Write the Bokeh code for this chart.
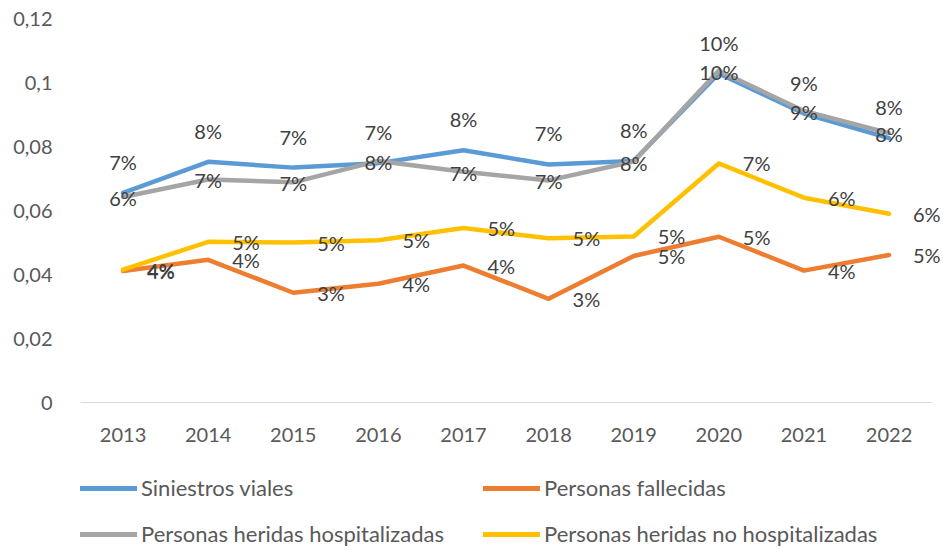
from bokeh.plotting import figure
from bokeh.models import (ColumnDataSource, LabelSet, Range1d, FixedTicker,
                          Legend, LegendItem)
from bokeh.layouts import column
from bokeh.core.properties import value
from bokeh.embed import file_html
from bokeh.resources import INLINE

years = [2013, 2014, 2015, 2016, 2017, 2018, 2019, 2020, 2021, 2022]
siniestros_viales = [0.0655, 0.0752, 0.0734, 0.0748, 0.0788, 0.0744, 0.0755, 0.1028, 0.0903, 0.0826]
personas_fallecidas = [0.0411, 0.0446, 0.0343, 0.0371, 0.0428, 0.0324, 0.0458, 0.0518, 0.0412, 0.0461]
heridas_hospitalizadas = [0.0642, 0.0697, 0.0688, 0.0755, 0.0721, 0.0694, 0.0753, 0.1037, 0.0911, 0.0842]
heridas_no_hospitalizadas = [0.0415, 0.0502, 0.0500, 0.0507, 0.0545, 0.0513, 0.0519, 0.0747, 0.0640, 0.0590]

series_names = ["Siniestros viales", "Personas fallecidas",
                "Personas heridas hospitalizadas", "Personas heridas no hospitalizadas"]
series_values = [siniestros_viales, personas_fallecidas,
                 heridas_hospitalizadas, heridas_no_hospitalizadas]
series_colors = ["#5B9BD5", "#ED7D31", "#A5A5A5", "#FFC000"]
# label placement per series: "above", "right", "center", "right"
label_positions = ["above", "right", "center", "right"]

y_ticks = [0, 0.02, 0.04, 0.06, 0.08, 0.1, 0.12]
y_tick_labels = ["0", "0,02", "0,04", "0,06", "0,08", "0,1", "0,12"]

FONT = "Lato"

# frame extends a little past the last category so that right-side labels are not clipped
p = figure(width=943, height=452, output_backend="svg", toolbar_location=None,
           x_range=Range1d(2012.5, 2022.64), y_range=Range1d(0, 0.12),
           min_border_left=78, min_border_right=0, min_border_top=18,
           min_border_bottom=50)
p.outline_line_color = None
p.xgrid.visible = False
p.ygrid.visible = False
p.background_fill_color = "white"
p.border_fill_color = "white"

# axes
p.xaxis.ticker = FixedTicker(ticks=years)
p.xaxis.bounds = (2012.5, 2022.5)
p.xaxis.axis_line_color = "#D9D9D9"
p.xaxis.axis_line_width = 1
p.xaxis.major_tick_line_color = None
p.xaxis.minor_tick_line_color = None
p.xaxis.major_label_standoff = 19
p.xaxis.major_label_text_font = FONT
p.xaxis.major_label_text_font_size = "20px"
p.xaxis.major_label_text_color = "#595959"

p.yaxis.ticker = FixedTicker(ticks=y_ticks)
p.yaxis.major_label_overrides = {t: l for t, l in zip(y_ticks, y_tick_labels)}
p.yaxis.axis_line_color = None
p.yaxis.major_tick_line_color = None
p.yaxis.minor_tick_line_color = None
p.yaxis.major_label_standoff = 22
p.yaxis.major_label_text_font = FONT
p.yaxis.major_label_text_font_size = "20px"
p.yaxis.major_label_text_color = "#595959"

# legend holder figure (below the chart)
p2 = figure(width=943, height=95, output_backend="svg", toolbar_location=None,
            x_range=Range1d(0, 1), y_range=Range1d(0, 1),
            min_border_left=80, min_border_right=0, min_border_top=22,
            min_border_bottom=0)
p2.outline_line_color = None
p2.axis.visible = False
p2.xgrid.visible = False
p2.ygrid.visible = False

items = []
for name, vals, color, pos in zip(series_names, series_values, series_colors, label_positions):
    src = ColumnDataSource(dict(x=years, y=vals, lbl=[f"{round(v * 100)}%" for v in vals]))
    p.line("x", "y", source=src, line_color=color, line_width=4.5,
           line_join="round", line_cap="round")
    # same data, lying outside p2's ranges: only used for the legend sample
    proxy = p2.line("x", "y", source=src, line_color=color, line_width=5, line_cap="round")
    items.append(LegendItem(label=name, renderers=[proxy]))
    if pos == "above":
        kw = dict(x_offset=0, y_offset=31, text_align="center")
    elif pos == "right":
        kw = dict(x_offset=24, y_offset=0, text_align="left")
    else:
        kw = dict(x_offset=0, y_offset=-1, text_align="center")
    p.add_layout(LabelSet(x="x", y="y", text="lbl", source=src,
                          text_font=value(FONT), text_font_size=value("20px"),
                          text_color="#404040", text_baseline="middle", **kw))

legend = Legend(items=items, orientation="horizontal", ncols=2,
                location="top_left",
                glyph_width=57, glyph_height=26, label_height=26, label_width=323,
                label_standoff=4, spacing=19, padding=0, margin=0,
                border_line_color=None, background_fill_alpha=0,
                label_text_font=FONT, label_text_font_size="22px",
                label_text_color="#595959")
p2.add_layout(legend, "center")

layout = column(p, p2, spacing=0)
open("out.html", "w").write(file_html(layout, INLINE))
